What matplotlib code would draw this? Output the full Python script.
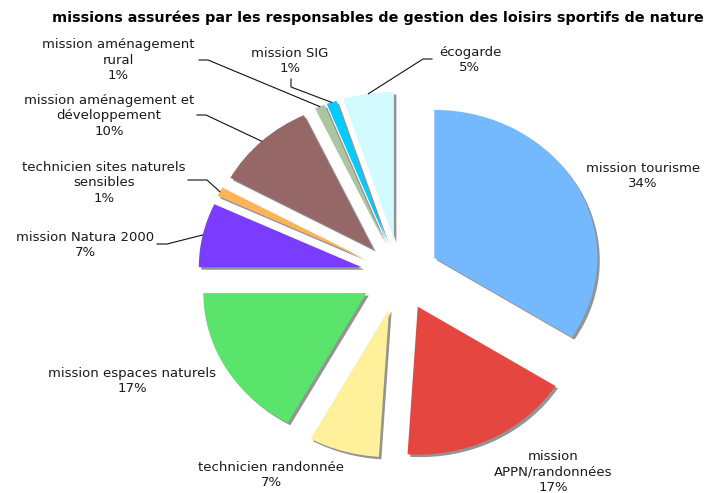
import numpy as np
import matplotlib
matplotlib.use("Agg")
import matplotlib.pyplot as plt

# ---- data ----
categories = [
    "mission tourisme",
    "mission\nAPPN/randonnées",
    "technicien randonnée",
    "mission espaces naturels",
    "mission Natura 2000",
    "technicien sites naturels\nsensibles",
    "mission aménagement et\ndéveloppement",
    "mission aménagement\nrural",
    "mission SIG",
    "écogarde",
]
values = [34, 17, 7, 17, 7, 1, 10, 1, 1, 5]
colors = ["#74B8FE", "#E54640", "#FFF19C", "#5AE46B", "#7A3DFF",
          "#FFB45A", "#966767", "#ABC5A0", "#00CCFF", "#D2FAFF"]
title = "missions assurées par les responsables de gestion des loisirs sportifs de nature"

# ---- layout (pixels in a 705x493 canvas) ----
W, H = 705, 493
CX, CY = 400, 275          # pie centre in pixels
RX, RY = 163, 148          # pie radii in pixels
explode_frac = 0.24
label_pos = [(643, 176), (553, 472), (271, 475), (132, 381), (85, 245),
             (104, 183), (109, 116), (118, 60), (290, 61), (470, 60)]
leader_pts = {4: [(157, 244), (167, 244)],
              5: [(188, 180), (207, 180)],
              6: [(197, 115), (206, 115)],
              7: [(199, 60), (208, 60)],
              8: [(291, 79), (291, 87)],
              9: [(432, 59), (423, 59)]}

def to_data(px, py):
    return (px - CX) / RX, (CY - py) / RY

fig = plt.figure(figsize=(W / 100, H / 100), dpi=100)
ax = fig.add_axes([0, 0, 1, 1])

explode = [explode_frac] * len(values)
# shadow
sx, sy = 2.5 / RX, -2.5 / RY
ax.pie(values, explode=explode, startangle=90, counterclock=False,
       colors=["#949494"] * len(values), center=(sx, sy),
       wedgeprops=dict(linewidth=0))
wedges, _ = ax.pie(values, explode=explode, startangle=90, counterclock=False,
                   colors=colors, wedgeprops=dict(linewidth=0))

ax.set_aspect("auto")
ax.set_xlim((0 - CX) / RX, (W - CX) / RX)
ax.set_ylim((CY - H) / RY, CY / RY)
ax.axis("off")

fs = 9.5
for i, (lab, v) in enumerate(zip(categories, values)):
    x, y = to_data(*label_pos[i])
    ax.text(x, y, f"{lab}\n{v}%", ha="center", va="center", fontsize=fs,
            color="#1a1a1a", linespacing=1.24, family="DejaVu Sans")
    if i in leader_pts:
        w = wedges[i]
        mid = np.deg2rad((w.theta1 + w.theta2) / 2)
        cx, cy = w.center
        end = (cx + w.r * np.cos(mid), cy + w.r * np.sin(mid))
        pts = [to_data(*p) for p in leader_pts[i]] + [end]
        xs, ys = zip(*pts)
        ax.plot(xs, ys, color="#111111", lw=0.8)

tx, ty = to_data(378, 18)
ax.text(tx, ty, title, ha="center", va="center", fontsize=10.4,
        fontweight="bold", color="black")

fig.savefig("out.png", dpi=100)
